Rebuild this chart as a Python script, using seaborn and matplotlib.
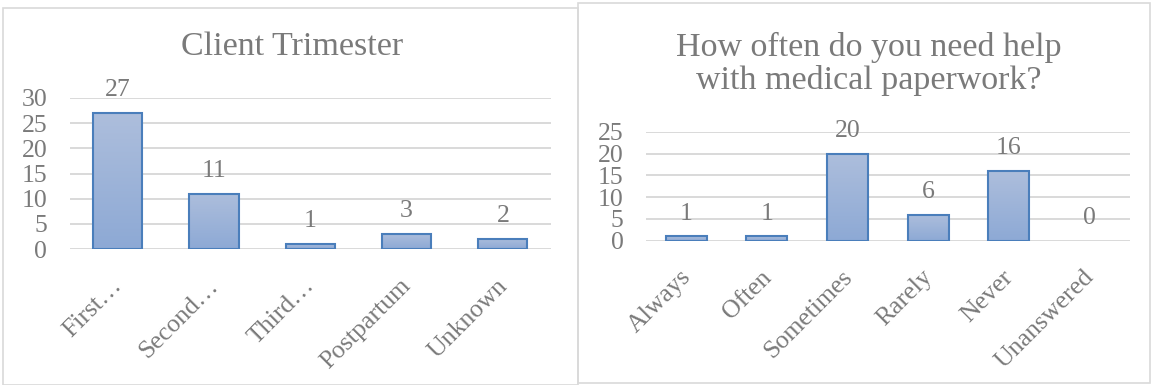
import numpy as np
import pandas as pd
import matplotlib
matplotlib.use("Agg")
import matplotlib.pyplot as plt
import matplotlib.transforms as mtransforms
from matplotlib.patches import Rectangle
import seaborn as sns

# ---- data ----
trimester_cats = ["First…", "Second…", "Third…", "Postpartum", "Unknown"]
trimester_vals = [27, 11, 1, 3, 2]
trimester_ticks = [0, 5, 10, 15, 20, 25, 30]

help_cats = ["Always", "Often", "Sometimes", "Rarely", "Never", "Unanswered"]
help_vals = [1, 1, 20, 6, 16, 0]
help_ticks = [0, 5, 10, 15, 20, 25]

title_left = "Client Trimester"
title_right = "How often do you need help\nwith medical paperwork?"

# ---- style ----
sns.set_style("white")
plt.rcParams["font.family"] = ["Liberation Serif", "DejaVu Serif"]
GREY = "#7a7a7a"
GRID = "#d9d9d9"
EDGE = "#4a7ebb"
TOP_C = np.array([0xad, 0xbe, 0xdc]) / 255
BOT_C = np.array([0x8d, 0xa9, 0xd5]) / 255

W, H = 1153, 385
fig = plt.figure(figsize=(W / 100, H / 100), dpi=100)
fig.patch.set_facecolor("white")

def px_axes(x0, y0, x1, y1):
    return fig.add_axes([x0 / W, 1 - y1 / H, (x1 - x0) / W, (y1 - y0) / H])

grad = np.linspace(0, 1, 256).reshape(-1, 1, 1)
grad_img = TOP_C * (1 - grad) + BOT_C * grad  # row 0 = top


def draw(ax, cats, vals, ticks, fs=18.5):
    df = pd.DataFrame({"cat": cats, "val": vals})
    sns.barplot(data=df, x="cat", y="val", ax=ax, width=0.51,
                color="#9db2d8", edgecolor=EDGE, linewidth=1.5,
                saturation=1, zorder=3)
    ax.set_xlabel("")
    ax.set_ylabel("")
    for s in ax.spines.values():
        s.set_visible(False)
    ax.yaxis.grid(True, color=GRID, linewidth=1.4, zorder=0)
    ax.set_axisbelow(True)
    ax.tick_params(axis="both", length=0, colors=GREY, labelsize=fs)
    ax.tick_params(axis="y", pad=16)
    ax.tick_params(axis="x", pad=24)
    # gradient fill clipped to each bar
    for p in ax.patches:
        x0, y0 = p.get_x(), p.get_y()
        w, h = p.get_width(), p.get_height()
        if h <= 0:
            p.set_visible(False)
            continue
        im = ax.imshow(grad_img, extent=[x0, x0 + w, y0, y0 + h],
                       aspect="auto", zorder=3.5, origin="upper")
        im.set_clip_path(p)
        p.set_facecolor("none")
        p.set_zorder(4)
    ax.set_ylim(ticks[0], ticks[-1])
    ax.set_yticks(ticks)
    ax.set_xlim(-0.5, len(cats) - 0.5)
    # value labels
    for i, v in enumerate(vals):
        ax.annotate(str(v), (i, v), xytext=(0, 12), textcoords="offset points",
                    ha="center", va="baseline", color=GREY, fontsize=fs,
                    annotation_clip=False)
    offset = mtransforms.ScaledTranslation(1 / 100, 0, fig.dpi_scale_trans)
    for lab in ax.get_xticklabels():
        lab.set_rotation(45)
        lab.set_ha("right")
        lab.set_va("center")
        lab.set_rotation_mode("anchor")
        lab.set_transform(lab.get_transform() + offset)


ax1 = px_axes(69.5, 98, 551, 249)
draw(ax1, trimester_cats, trimester_vals, trimester_ticks)

ax2 = px_axes(645.8, 131.7, 1129.7, 240.7)
draw(ax2, help_cats, help_vals, help_ticks)

fig.text(292.5 / W, 1 - 47 / H, title_left, ha="center", va="center",
         fontsize=24.5, color=GREY)
fig.text(869 / W, 1 - 64 / H, title_right, ha="center", va="center",
         fontsize=24.5, color=GREY, linespacing=1.1)

# panel borders
fig.add_artist(Rectangle((3 / W, 0), 575 / W, 1 - 8 / H, transform=fig.transFigure,
                         fill=False, edgecolor=GRID, linewidth=1.2))
fig.add_artist(Rectangle((578 / W, 1 - 383 / H), 572 / W, 380 / H,
                         transform=fig.transFigure, fill=False,
                         edgecolor=GRID, linewidth=1.2))

fig.savefig("out.png", dpi=100, facecolor="white")
